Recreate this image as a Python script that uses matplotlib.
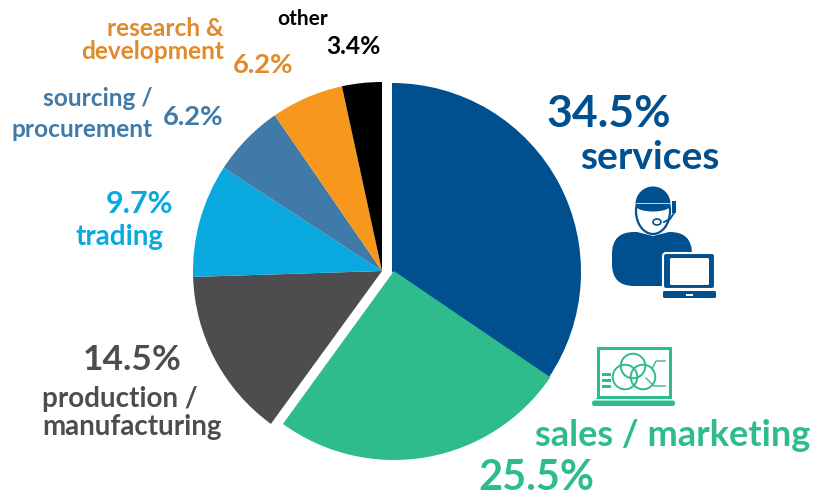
import matplotlib
matplotlib.use("Agg")
import matplotlib.pyplot as plt
from matplotlib.patches import Circle, Ellipse, FancyBboxPatch, Polygon, Rectangle, Wedge

# pie data
sectors = ["services", "sales / marketing", "production /\nmanufacturing", "trading",
           "sourcing /\nprocurement", "research &\ndevelopment", "other"]
shares = [34.5, 25.5, 14.5, 9.7, 6.2, 6.2, 3.4]
colors = ["#00508F", "#2FBC8C", "#4D4D4F", "#09A9E0", "#3F7AA8", "#F7981D", "#000000"]
text_colors = ["#00508F", "#2FBC8C", "#4D4D4F", "#09A9E0", "#3F7AA8", "#E08A2C", "#000000"]

plt.rcParams["font.family"] = ["Lato", "DejaVu Sans"]

fig = plt.figure(figsize=(8.27, 4.98), dpi=100)
ax = fig.add_axes([0, 0, 1, 1])

# y axis runs downwards so everything is in picture pixels
wedges, _ = ax.pie(shares, colors=colors, startangle=270, counterclock=True, radius=189,
                   center=(382, 271), wedgeprops={"linewidth": 0})
wedges[0].set_center((392, 272))
wedges[1].set_center((394, 271))
ax.set_xlim(0, 827)
ax.set_ylim(498, 0)
ax.set_aspect("auto")
ax.axis("off")


def label(x, y, s, size, color, ha="left", weight="bold", spacing=1.05):
    ax.text(x, y, s, fontsize=size, color=color, ha=ha, va="center", weight=weight,
            linespacing=spacing)


# percent and sector labels
label(546, 114, f"{shares[0]}%", 32, text_colors[0])
label(580, 157, sectors[0], 28, text_colors[0])
label(535, 435, sectors[1], 26, text_colors[1])
label(478, 478, f"{shares[1]}%", 30, text_colors[1])
label(83, 360, f"{shares[2]}%", 25.5, text_colors[2])
label(42, 413, sectors[2], 20, text_colors[2])
label(173, 204, f"{shares[3]}%", 22, text_colors[3], ha="right")
label(76, 237, sectors[3], 20, text_colors[3])
label(153, 114, sectors[4], 17.6, text_colors[4], ha="right", spacing=1.4)
label(163, 117, f"{shares[4]}%", 19.7, text_colors[4])
label(224, 40, sectors[5], 17.6, text_colors[5], ha="right")
label(233, 65, f"{shares[5]}%", 19.7, text_colors[5])
label(277, 19, sectors[6], 15, text_colors[6])
label(326, 46, f"{shares[6]}%", 17.7, text_colors[6])

# headset operator icon
navy = colors[0]
ax.add_patch(FancyBboxPatch((612, 232), 80, 54, boxstyle="round,pad=0,rounding_size=22",
                            fc=navy, ec="none"))
ax.add_patch(Polygon([(637, 232), (653, 236), (669, 232), (669, 226), (637, 226)], fc="white", ec="none"))
ax.add_patch(Ellipse((653, 211), 34, 46, fc="white", ec=navy, lw=1.6))
ax.add_patch(Wedge((653, 204), 17.5, 180, 360, fc=navy, ec="none"))
ax.add_patch(Ellipse((653, 206), 34, 11, fc=navy, ec="none"))
ax.add_patch(Rectangle((636, 203), 35, 1.2, fc="#BBD0E2", ec="none"))
ax.add_patch(Rectangle((672, 201), 4, 12, fc=navy, ec="none"))
ax.plot([674, 670, 664], [213, 219, 222], color=navy, lw=1.3)
ax.add_patch(Ellipse((657, 222), 8, 6, fc="white", ec=navy, lw=1.2))

# laptop in front of the operator
ax.add_patch(FancyBboxPatch((663, 253), 52, 36, boxstyle="round,pad=0,rounding_size=3",
                            fc=navy, ec="white", lw=1.5))
ax.add_patch(FancyBboxPatch((670, 258), 39, 27, boxstyle="round,pad=0,rounding_size=1.5",
                            fc="white", ec="none"))
ax.add_patch(FancyBboxPatch((663, 291), 53, 7, boxstyle="round,pad=0,rounding_size=1.5",
                            fc=navy, ec="none"))
ax.add_patch(Rectangle((686, 293.5), 7, 2, fc="white", ec="none"))

# venn laptop icon
green = colors[1]
ax.add_patch(Rectangle((597.5, 347.5), 72, 49, fc="white", ec=green, lw=2.2))
ax.add_patch(Rectangle((596, 398), 75, 1, fc=green, ec="none"))
ax.add_patch(FancyBboxPatch((592, 400.5), 83, 5.5, boxstyle="round,pad=0,rounding_size=2.5",
                            fc=green, ec="none"))
for cx, cy in [(633, 366), (625, 377), (643, 377)]:
    ax.add_patch(Circle((cx, cy), 12.3, fc="none", ec=green, lw=1.4))
for y in [373, 379, 385]:
    ax.add_patch(Rectangle((602, y), 9, 3, fc=green, ec="none"))
ax.plot([652, 656, 665], [369, 361, 361], color=green, lw=1)
ax.plot([646, 654, 665], [378, 386, 386], color=green, lw=1)

fig.savefig("out.png", dpi=100)
